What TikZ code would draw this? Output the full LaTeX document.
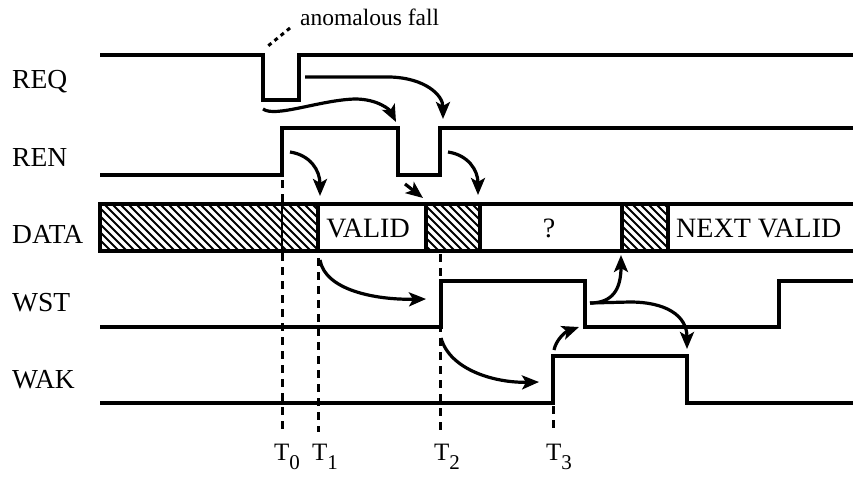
\documentclass[tikz,border=0pt]{standalone}
\usepackage{fontspec}
\setmainfont{Liberation Serif}
\usetikzlibrary{arrows.meta}
\begin{document}
\begin{tikzpicture}[x=1pt,y=-1pt,
  sig/.style={line width=3.2pt, line join=miter, line cap=butt},
  arr/.style={line width=3.2pt, -{Stealth[length=17pt,width=14pt,inset=4pt]}},
  tline/.style={line width=3pt, dash pattern=on 8pt off 6pt},
  hatch/.style={line width=1.9pt},
  lab/.style={font=\fontsize{27.5}{29}\selectfont, anchor=base west, inner sep=0pt},
  tlab/.style={font=\fontsize{25}{27}\selectfont, anchor=base west, inner sep=0pt},
  boxtxt/.style={font=\fontsize{28}{30}\selectfont, inner sep=0pt, anchor=base},
]
\path[use as bounding box] (0,0) rectangle (853,479);

% signal labels
\node[lab] (lREQ)  at (12,88)  {REQ};
\node[lab] (lREN)  at (12,166) {REN};
\node[lab] (lDATA) at (12,243) {DATA};
\node[lab] (lWST)  at (12,311) {WST};
\node[lab] (lWAK)  at (12,388) {WAK};

% hatching
\foreach \a/\b in {100/318,426/480,622/668}{
  \begin{scope}
    \clip (\a,204) rectangle (\b,251);
    \foreach \x in {40,48,...,680}{
      \draw[hatch] (\x,204) -- (\x+47,251);
    }
  \end{scope}
}

% time markers
\draw[tline] (282,180) -- (282,204);
\draw[line width=1.2pt] (282,204) -- (282,251);
\draw[tline] (282,253) coordinate (t0top) -- (282,432) coordinate (t0);
\draw[tline] (318,258) -- (318,432) coordinate (t1);
\draw[tline] (440,254) -- (440,432) coordinate (t2);
\draw[tline] (553,406) -- (553,432) coordinate (t3);

% DATA bar
\draw[sig] (853,204) -- (100,204) -- (100,251) -- (853,251);
\foreach \x in {318,426,480,622,668}{
  \draw[sig] (\x,204) -- (\x,251);
}
\node[boxtxt] (valid) at (368,237) {VALID};
\node[boxtxt] (unk)   at (549,237) {?};
\node[font=\fontsize{28}{30}\selectfont, inner sep=0pt, anchor=base west] (next) at (676,237) {NEXT VALID};

% signals
\draw[sig] (100,55) -- (263,55) -- (263,100) -- (299,100) -- (299,55) -- (853,55);
\draw[sig] (100,175) -- (282,175) -- (282,128) -- (398,128) -- (398,175) -- (440,175) -- (440,128) -- (853,128);
\draw[sig] (100,327) -- (441,327) -- (441,281) -- (585,281) -- (585,327) -- (779,327) -- (779,281) -- (853,281);
\draw[sig] (100,403) -- (553,403) -- (553,356) -- (687,356) -- (687,403) -- (853,403);

% anomalous fall annotation
\node[font=\fontsize{23.5}{25}\selectfont, anchor=base west, inner sep=0pt] (anom) at (300,25) {anomalous fall};
\draw[line width=3pt, dash pattern=on 4pt off 4pt] (290,28) -- (268,46);

% causal arrows
\coordinate (a1s) at (263,109);
\coordinate (a1e) at (396,122);
\draw[arr] (a1s) .. controls (275,118) and (320,100) .. (355,99) .. controls (378,99) and (390,110) .. (a1e);
\coordinate (a2s) at (305,77);
\coordinate (a2e) at (443,119);
\draw[arr] (a2s) -- (390,77) .. controls (425,78) and (443,95) .. (a2e);
\coordinate (a3s) at (290,152);
\coordinate (a3e) at (320,196);
\draw[arr] (a3s) .. controls (310,155) and (320,170) .. (a3e);
\coordinate (a4s) at (405,184);
\coordinate (a4e) at (423,198);
\draw[arr] (a4s) -- (a4e);
\coordinate (a5s) at (448,152);
\coordinate (a5e) at (478,195);
\draw[arr] (a5s) .. controls (468,155) and (478,170) .. (a5e);
\coordinate (a6s) at (320,260);
\coordinate (a6e) at (426,299);
\draw[arr] (a6s) .. controls (325,290) and (375,300) .. (a6e);
\coordinate (a7s) at (590,303);
\coordinate (a7e) at (621,255);
\draw[arr] (a7s) .. controls (612,303) and (621,290) .. (a7e);
\coordinate (a8e) at (687,349);
\draw[arr] (a7s) -- (630,302) .. controls (665,302) and (687,315) .. (a8e);
\coordinate (a9s) at (441,338);
\coordinate (a9e) at (539,382);
\draw[arr] (a9s) .. controls (450,370) and (495,383) .. (a9e);
\coordinate (a10s) at (554,350);
\coordinate (a10e) at (579,327);
\draw[arr] (a10s) .. controls (556,340) and (565,332) .. (a10e);

% time labels
\node[tlab] (T0) at (274,460) {T\raisebox{-9pt}{\fontsize{21}{21}\selectfont 0}};
\node[tlab] (T1) at (312,460) {T\raisebox{-9pt}{\fontsize{21}{21}\selectfont 1}};
\node[tlab] (T2) at (434,460) {T\raisebox{-9pt}{\fontsize{21}{21}\selectfont 2}};
\node[tlab] (T3) at (546,460) {T\raisebox{-9pt}{\fontsize{21}{21}\selectfont 3}};
\end{tikzpicture}
\end{document}
